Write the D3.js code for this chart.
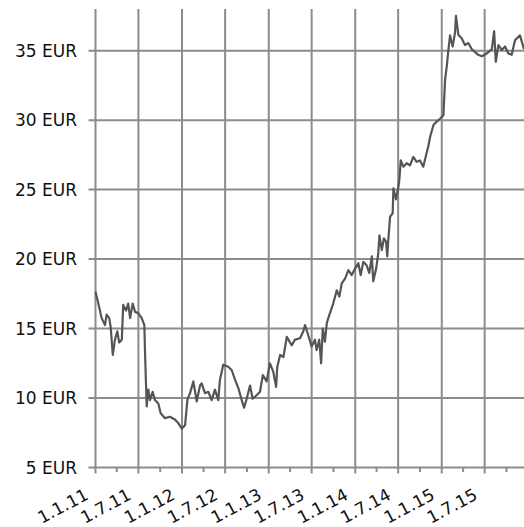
<!DOCTYPE html>
<html>
<head>
<meta charset="utf-8">
<script src="https://cdn.jsdelivr.net/npm/d3@7"></script>
<style>
  body { margin: 0; background: #fff; }
  svg text { font-family: "DejaVu Sans", Verdana, sans-serif; fill: #111; }
</style>
</head>
<body>
<div id="chart"></div>
<script>
// price history
const dates = [
  '2011-01-01','2011-01-13','2011-01-27','2011-02-10','2011-02-17','2011-02-28','2011-03-06','2011-03-15',
  '2011-03-24','2011-04-03','2011-04-11','2011-04-22','2011-04-28','2011-05-10','2011-05-19','2011-05-27',
  '2011-06-07','2011-06-17','2011-07-01','2011-07-15','2011-07-26','2011-07-30','2011-08-05','2011-08-12',
  '2011-08-19','2011-08-30','2011-09-09','2011-09-23','2011-10-03','2011-10-21','2011-11-11','2011-12-02',
  '2011-12-16','2011-12-31','2012-01-14','2012-01-24','2012-02-04','2012-02-18','2012-03-03','2012-03-17',
  '2012-03-24','2012-04-07','2012-04-21','2012-05-05','2012-05-19','2012-06-02','2012-06-09','2012-06-23',
  '2012-07-14','2012-07-29','2012-08-12','2012-08-26','2012-09-09','2012-09-19','2012-09-30','2012-10-14',
  '2012-10-25','2012-11-11','2012-11-25','2012-12-07','2012-12-23','2013-01-06','2013-01-20','2013-02-01',
  '2013-02-06','2013-02-18','2013-03-04','2013-03-18','2013-04-08','2013-04-22','2013-05-13','2013-05-27',
  '2013-06-03','2013-06-17','2013-07-01','2013-07-15','2013-07-22','2013-08-02','2013-08-10','2013-08-17',
  '2013-08-26','2013-09-03','2013-09-14','2013-09-30','2013-10-15','2013-10-26','2013-11-05','2013-11-19',
  '2013-12-03','2013-12-17','2013-12-31','2014-01-14','2014-01-24','2014-02-04','2014-02-18','2014-03-01',
  '2014-03-12','2014-03-18','2014-03-30','2014-04-08','2014-04-13','2014-04-23','2014-05-02','2014-05-11',
  '2014-05-16','2014-05-21','2014-05-28','2014-06-08','2014-06-11','2014-06-22','2014-07-02','2014-07-06',
  '2014-07-12','2014-07-23','2014-08-06','2014-08-20','2014-09-03','2014-09-17','2014-10-01','2014-10-15',
  '2014-10-27','2014-11-05','2014-11-13','2014-11-27','2014-12-11','2014-12-25','2015-01-08','2015-01-15',
  '2015-01-22','2015-01-29','2015-02-05','2015-02-16','2015-02-26','2015-03-02','2015-03-12','2015-03-26',
  '2015-04-09','2015-04-23','2015-05-08','2015-05-22','2015-06-04','2015-06-19','2015-07-10','2015-07-31',
  '2015-08-10','2015-08-17','2015-08-28','2015-09-11','2015-09-25','2015-10-09','2015-10-23','2015-11-06',
  '2015-11-27','2015-12-14'
];
const prices = [
  17.65,16.8,15.75,15.25,16.0,15.75,15.1,13.1,
  14.2,14.8,14.0,14.2,16.7,16.3,16.8,15.75,
  16.8,16.2,16.1,15.75,15.25,12.7,9.4,10.6,
  9.85,10.45,9.85,9.6,8.9,8.55,8.65,8.45,
  8.2,7.8,8.05,9.9,10.35,11.2,9.75,10.9,
  11.05,10.35,10.45,9.85,10.6,9.85,11.3,12.4,
  12.25,12.0,11.3,10.7,9.85,9.3,9.95,10.9,
  9.95,10.2,10.45,11.65,11.2,12.5,11.9,10.8,
  12.25,13.1,12.95,14.4,13.8,14.2,14.3,14.8,
  15.25,14.5,13.7,14.2,13.45,14.2,12.5,15.0,
  14.05,15.4,16.0,16.8,17.75,17.3,18.25,18.6,
  19.2,18.85,19.3,19.7,18.85,19.8,19.55,19.0,
  20.2,18.4,19.3,20.4,21.7,20.65,21.5,21.25,
  20.2,21.5,23.05,23.3,25.1,24.3,25.2,25.7,
  27.1,26.65,26.9,26.75,27.35,27.0,27.1,26.65,
  27.5,28.1,28.8,29.65,29.9,30.1,30.35,32.9,
  33.85,35.05,36.1,35.3,36.3,37.5,36.15,35.9,
  35.4,35.55,35.1,34.9,34.7,34.6,34.8,35.1,
  36.4,34.2,35.4,35.05,35.3,34.8,34.7,35.75,
  36.1,35.1
];
const yTicks = [5, 10, 15, 20, 25, 30, 35];
const yDomain = [5, 38];

const W = 524, H = 527;
const margin = { top: 9, right: 0, bottom: 59.5, left: 95.5 };

const parse = d3.timeParse('%Y-%m-%d');
const data = dates.map((d, i) => ({ date: parse(d), value: prices[i] }));

const svg = d3.select('#chart').append('svg')
  .attr('width', W)
  .attr('height', H);

const x = d3.scaleTime()
  .domain(d3.extent(data, d => d.date))
  .range([margin.left, W - margin.right]);
const y = d3.scaleLinear()
  .domain(yDomain)
  .range([H - margin.bottom, margin.top]);

const gridColor = '#8c8c8c';
const majorTicks = x.ticks(d3.timeMonth.every(6));
const minorTicks = x.ticks(d3.timeMonth.every(3)).filter(d => d.getMonth() % 6 !== 0);

// horizontal grid lines, running out into the y ticks
svg.append('g')
  .selectAll('line')
  .data(yTicks)
  .join('line')
  .attr('x1', margin.left - 7)
  .attr('x2', W)
  .attr('y1', d => y(d))
  .attr('y2', d => y(d))
  .attr('stroke', gridColor)
  .attr('stroke-width', 2);

// vertical grid lines every half year
svg.append('g')
  .selectAll('line')
  .data(majorTicks)
  .join('line')
  .attr('x1', d => x(d))
  .attr('x2', d => x(d))
  .attr('y1', margin.top)
  .attr('y2', H - margin.bottom + 6)
  .attr('stroke', gridColor)
  .attr('stroke-width', 2);

// small quarter ticks
svg.append('g')
  .selectAll('line')
  .data(minorTicks)
  .join('line')
  .attr('x1', d => x(d))
  .attr('x2', d => x(d))
  .attr('y1', H - margin.bottom)
  .attr('y2', H - margin.bottom + 4.5)
  .attr('stroke', gridColor)
  .attr('stroke-width', 2);

// y labels
svg.append('g')
  .selectAll('text')
  .data(yTicks)
  .join('text')
  .attr('x', margin.left - 18.5)
  .attr('y', d => y(d))
  .attr('dy', '0.36em')
  .attr('text-anchor', 'end')
  .style('font-size', '17px')
  .text(d => d + ' EUR');

// x labels, tilted
const fmt = d3.timeFormat('%-d.%-m.%y');
svg.append('g')
  .selectAll('text')
  .data(majorTicks)
  .join('text')
  .attr('text-anchor', 'end')
  .attr('transform', d => `translate(${x(d) - 6},${H - margin.bottom + 31}) rotate(-28)`)
  .style('font-size', '17px')
  .text(fmt);

// price line
const line = d3.line()
  .x(d => x(d.date))
  .y(d => y(d.value));

svg.append('path')
  .datum(data)
  .attr('fill', 'none')
  .attr('stroke', '#555')
  .attr('stroke-width', 2.2)
  .attr('stroke-linejoin', 'round')
  .attr('d', line);
</script>
</body>
</html>
